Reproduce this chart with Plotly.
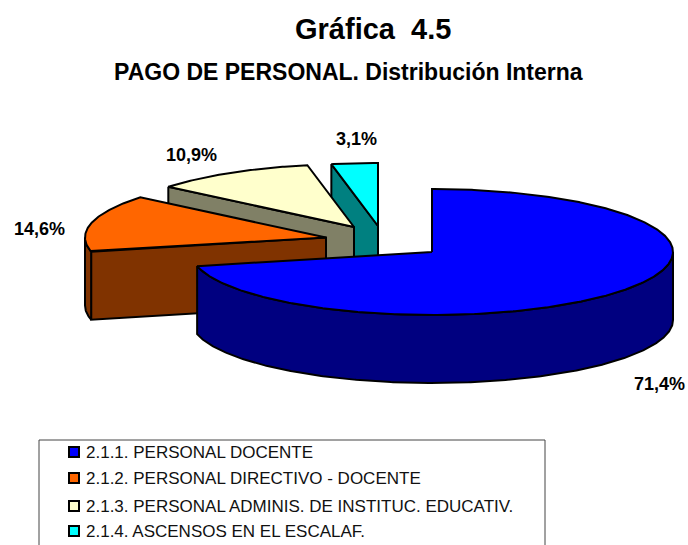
import numpy as np
import plotly.graph_objects as go

categories = ["2.1.1. PERSONAL DOCENTE", "2.1.2. PERSONAL DIRECTIVO - DOCENTE",
              "2.1.3. PERSONAL ADMINIS. DE INSTITUC. EDUCATIV.", "2.1.4. ASCENSOS EN EL ESCALAF."]
values = [71.4, 14.6, 10.9, 3.1]
top_colors = ["#0000FF", "#FF6600", "#FFFFCC", "#00FFFF"]
side_colors = ["#000080", "#803300", "#808066", "#008080"]

# projection of the tilted, exploded pie
apex = [(432, 252), (326, 237.5), (354, 227), (378, 226)]
A, B, DEPTH = 241, 63, 68
label_pos = [(659, 384), (39, 229), (191, 155), (356, 139)]
legend_rows = [452, 478, 506, 531]
FONT = "Liberation Sans"


def pt(c, deg, d=0):
    r = np.radians(deg)
    return c[0] + A * np.sin(r), c[1] - B * np.cos(r) + d


def arc(c, a0, a1, d=0):
    t = np.linspace(a0, a1, max(int(abs(a1 - a0)) * 2, 2))
    return [pt(c, x, d) for x in t]


fig = go.Figure()


def poly(points, color):
    xs, ys = zip(*points)
    fig.add_trace(go.Scatter(x=list(xs) + [xs[0]], y=list(ys) + [ys[0]], mode="lines", fill="toself",
                             fillcolor=color, line=dict(color="black", width=2),
                             hoverinfo="skip", showlegend=False))


edges = np.concatenate([[0], np.cumsum(values)]) / sum(values) * 360
for i in [3, 2, 1, 0]:
    c, a0, a1 = apex[i], edges[i], edges[i + 1]
    if i > 0:
        s = pt(c, a0)
        poly([s, c, (c[0], c[1] + DEPTH), (s[0], s[1] + DEPTH)], side_colors[i])
    lo, hi = max(a0, 90), min(a1, 270)
    if lo < hi:
        poly(arc(c, lo, hi) + arc(c, hi, lo, DEPTH), side_colors[i])
    poly([c] + arc(c, a0, a1), top_colors[i])

# legend box, running off the bottom of the page as in the reference
fig.add_shape(type="rect", x0=39, x1=545, y0=440, y1=570, xref="x", yref="y",
              line=dict(color="#444", width=1), fillcolor="white", layer="below")
fig.add_trace(go.Scatter(x=[74] * 4, y=legend_rows, mode="markers", hoverinfo="skip", showlegend=False,
                         marker=dict(symbol="square", size=10, color=top_colors,
                                     line=dict(color="black", width=2))))
for name, y in zip(categories, legend_rows):
    fig.add_annotation(x=84, y=y, text=name, showarrow=False, xanchor="left", xref="x", yref="y",
                       font=dict(size=17, color="#111", family=FONT))

for v, (x, y) in zip(values, label_pos):
    fig.add_annotation(x=x, y=y, text="<b>" + f"{v:.1f}%".replace(".", ",") + "</b>", showarrow=False,
                       font=dict(size=18, color="black", family=FONT), xref="x", yref="y")

fig.add_annotation(x=373, y=29, text="<b>Gráfica  4.5</b>", showarrow=False, xref="x", yref="y",
                   font=dict(size=29, color="black", family=FONT))
fig.add_annotation(x=348, y=72, text="<b>PAGO DE PERSONAL. Distribución Interna</b>", showarrow=False,
                   xref="x", yref="y", font=dict(size=23, color="black", family=FONT))

fig.update_layout(
    width=688, height=545, margin=dict(l=0, r=0, t=0, b=0), paper_bgcolor="white", plot_bgcolor="white",
    showlegend=False,
    xaxis=dict(range=[0, 688], visible=False, fixedrange=True),
    yaxis=dict(range=[545, 0], visible=False, fixedrange=True),
)
fig.write_html("out.html", config={"displayModeBar": False},
               post_script="document.body.style.margin='0';document.body.style.overflow='hidden';")
